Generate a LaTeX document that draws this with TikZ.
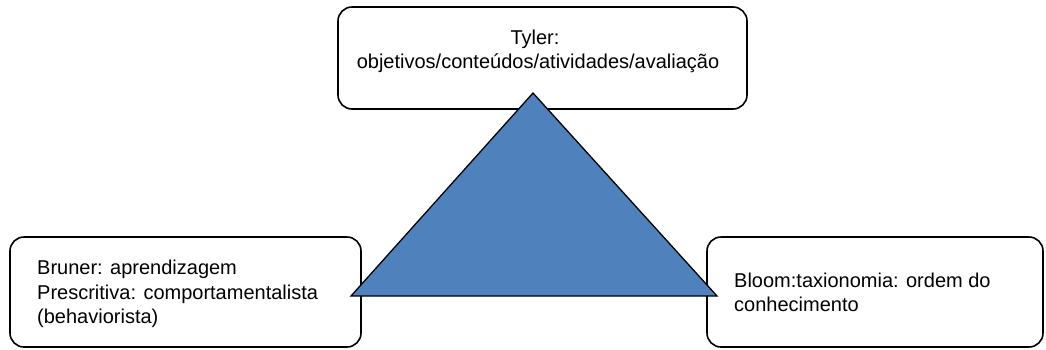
\documentclass[tikz,border=0pt]{standalone}
\usepackage{fontspec}
\setmainfont{Liberation Sans}
\definecolor{triblue}{HTML}{4F81BD}
\begin{document}
\begin{tikzpicture}[x=1pt,y=-1pt,
  box/.style={draw=black,line width=1.6pt,rounded corners=14pt,inner sep=0pt},
  txt/.style={anchor=base west,inner sep=0pt,font=\fontsize{20}{24}\selectfont},
  ctxt/.style={anchor=base,inner sep=0pt,font=\fontsize{20}{24}\selectfont}]
\useasboundingbox (0,0) rectangle (1046,349);
% boxes
\node[box,minimum width=409pt,minimum height=102pt] (top) at (542.5,58) {};
\node[box,minimum width=351pt,minimum height=110pt] (left) at (185.5,292) {};
\node[box,minimum width=336pt,minimum height=110pt] (right) at (875,292) {};
% texts
\node[ctxt] (t1) at (535,44) {Tyler:};
\node[ctxt] (t2) at (538,68) {objetivos/conteúdos/atividades/avaliação};
\node[txt] (l1) at (37,274) {Bruner: aprendizagem};
\node[txt] (l2) at (37,299) {Prescritiva: comportamentalista};
\node[txt] (l3) at (37,323) {(behaviorista)};
\node[txt] (r1) at (734,287) {Bloom:taxionomia: ordem do};
\node[txt] (r2) at (734,311) {conhecimento};
% triangle
\coordinate (apex) at (533,93);
\coordinate (bl) at (351,296);
\coordinate (br) at (717,296);
\filldraw[fill=triblue,draw=black,line width=1.3pt,line join=miter] (apex) -- (br) -- (bl) -- cycle;
\end{tikzpicture}
\end{document}
